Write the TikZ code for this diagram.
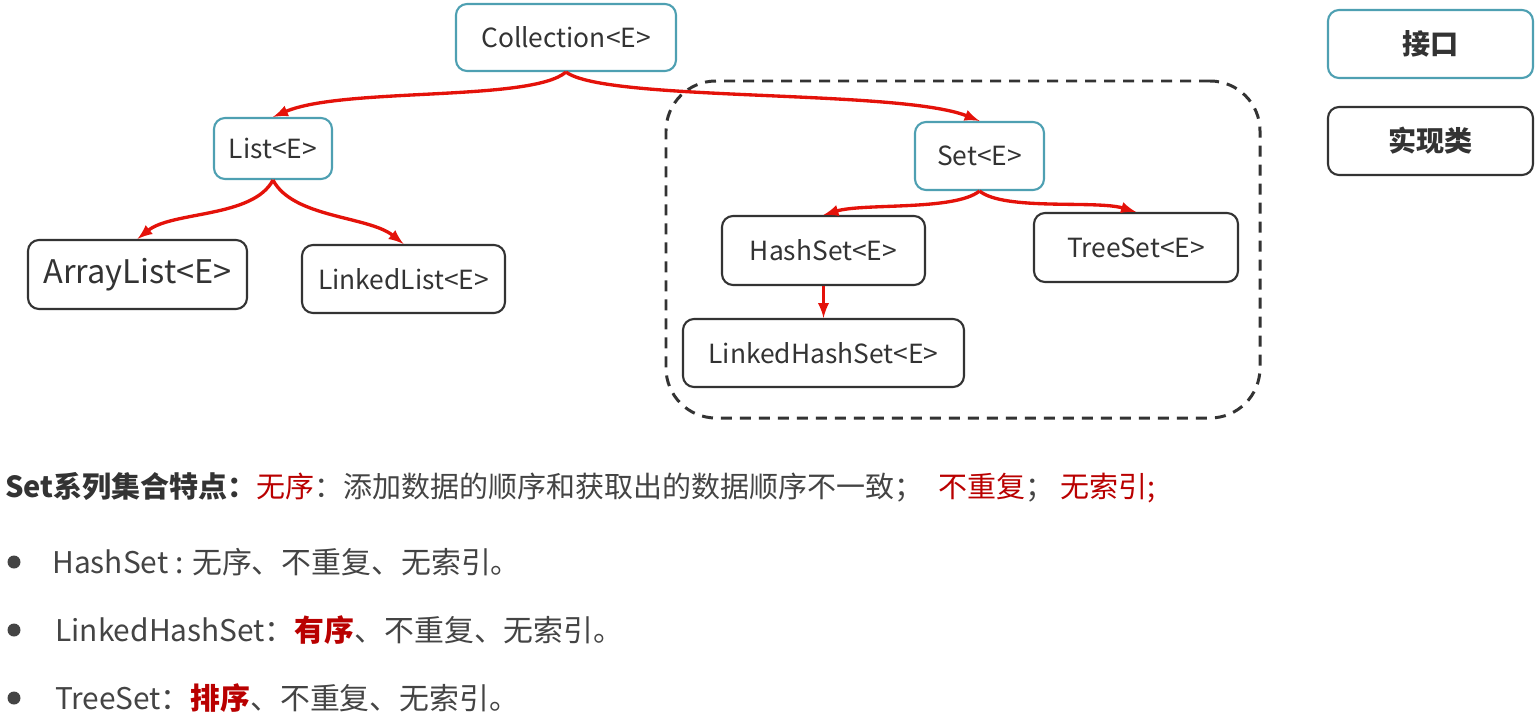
\documentclass[tikz,border=0pt]{standalone}
\usepackage{fontspec}
\setmainfont{Noto Sans CJK SC}
\usetikzlibrary{positioning}
\definecolor{ifcolor}{RGB}{78,160,178}
\definecolor{boxgray}{RGB}{51,51,51}
\definecolor{arrred}{RGB}{228,18,10}
\definecolor{txtred}{RGB}{185,0,0}
\definecolor{txtgray}{RGB}{68,68,68}
\tikzset{
  iface/.style={shape=rectangle, draw=ifcolor, line width=1.2pt, rounded corners=0.22cm, inner sep=0pt, text=boxgray, font=\fontsize{15}{18}\selectfont},
  impl/.style={shape=rectangle, draw=boxgray, line width=1.2pt, rounded corners=0.22cm, inner sep=0pt, text=boxgray, font=\fontsize{15}{18}\selectfont},
  arr/.style={-latex, draw=arrred, line width=1.9pt},
  grpbox/.style={shape=rectangle, draw=boxgray, line width=1.7pt, dash pattern=on 0.22cm off 0.16cm, rounded corners=1cm, inner sep=0pt},
  dot/.style={shape=circle, fill=txtgray, inner sep=0pt, minimum size=0.26cm},
  line/.style={anchor=west, inner sep=0pt, text=txtgray, font=\fontsize{17}{20}\selectfont},
}

\begin{document}
\begin{tikzpicture}[x=0.2mm, y=-0.2mm]
      \useasboundingbox (0,0) rectangle (1536,721);

      % set group
      \node[grpbox, minimum width=11.88cm, minimum height=6.74cm] (setgrp) at (963,249.5) {};

      \node[iface, minimum width=4.4cm, minimum height=1.34cm] (coll) at (566,37.5) {Collection<E>};
      \node[iface, minimum width=2.36cm, minimum height=1.22cm] (list) at (273,148.5) {List<E>};
      \node[iface, minimum width=2.58cm, minimum height=1.36cm] (set) at (979.5,156) {Set<E>};
      \node[impl, minimum width=4.38cm, minimum height=1.38cm, font=\fontsize{18.5}{22}\selectfont] (alist) at (137.5,274.5) {ArrayList<E>};
      \node[impl, minimum width=4.06cm, minimum height=1.36cm] (llist) at (403.5,279) {LinkedList<E>};
      \node[impl, minimum width=4.06cm, minimum height=1.38cm] (hset) at (823.5,250.5) {HashSet<E>};
      \node[impl, minimum width=4.08cm, minimum height=1.38cm] (tset) at (1136,247.5) {TreeSet<E>};
      \node[impl, minimum width=5.62cm, minimum height=1.36cm] (lhset) at (823.5,353) {LinkedHashSet<E>};

      % legend
      \node[iface, minimum width=4.1cm, minimum height=1.36cm, font=\fontsize{16}{18}\selectfont\bfseries] (legif) at (1430.5,44) {接口};
      \node[impl, minimum width=4.1cm, minimum height=1.36cm, font=\fontsize{16}{18}\selectfont\bfseries] (legimpl) at (1430.5,141) {实现类};

      \draw[arr] (coll.south) .. controls +(-35,30) and +(70,-30) .. (list.north);
      \draw[arr] (coll.south) .. controls +(40,30) and +(-80,-32) .. (set.north);
      \draw[arr] (list.south) .. controls +(-20,38) and +(35,-28) .. (alist.north);
      \draw[arr] (list.south) .. controls +(20,38) and +(-35,-28) .. (llist.north);
      \draw[arr] (set.south) .. controls +(-25,20) and +(40,-12) .. (hset.north);
      \draw[arr] (set.south) .. controls +(25,20) and +(-40,-12) .. (tset.north);
      \draw[arr] (hset) -- (lhset);

      % notes
      \node[line, font=\fontsize{16.5}{18}\selectfont] (feat) at (5,488) {\textcolor{boxgray}{\textbf{Set系列集合特点：}}\textcolor{txtred}{无序}：添加数据的顺序和获取出的数据顺序不一致；\enspace\textcolor{txtred}{不重复}；\ \textcolor{txtred}{无索引;}};
      \node[dot] (dota) at (14,562) {};
      \node[dot] (dotb) at (14,630) {};
      \node[dot] (dotc) at (14,698) {};
      \node[line] (hsetnote) at (52,562) {HashSet : 无序、不重复、无索引。};
      \node[line] (lhsetnote) at (55,630) {LinkedHashSet：\textcolor{txtred}{\textbf{有序}}、不重复、无索引。};
      \node[line] (tsetnote) at (55,698) {TreeSet：\textcolor{txtred}{\textbf{排序}}、不重复、无索引。};
    \end{tikzpicture}
\end{document}
